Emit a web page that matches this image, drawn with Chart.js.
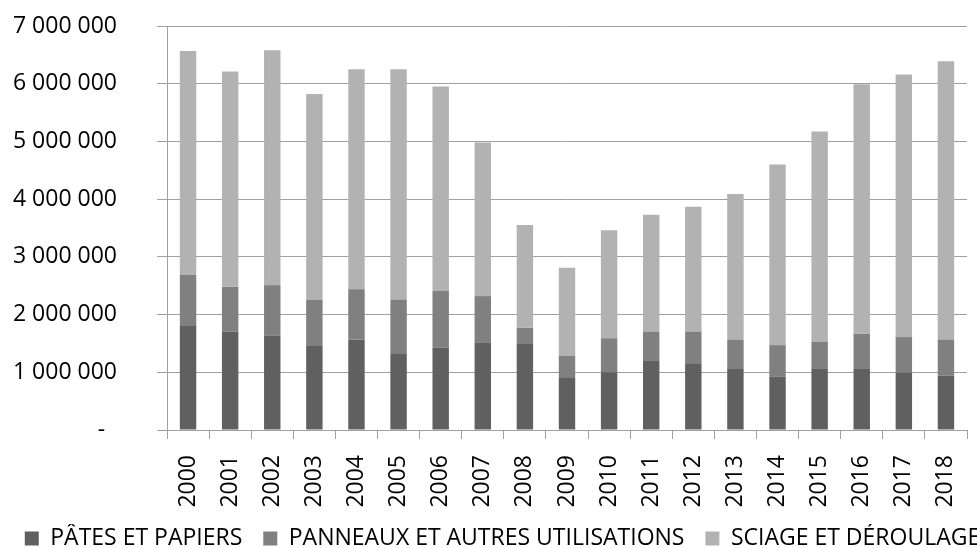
<!DOCTYPE html>
<html><head><meta charset="utf-8">
<script src="https://cdn.jsdelivr.net/npm/chart.js@4/dist/chart.umd.min.js"></script>
<style>html,body{margin:0;padding:0;background:#fff}#w{width:977px;height:548px}</style>
</head><body><div id="w"><canvas id="c" width="977" height="548"></canvas></div>
<script>
const years = ['2000','2001','2002','2003','2004','2005','2006','2007','2008','2009','2010','2011','2012','2013','2014','2015','2016','2017','2018'];
const seriesNames = ['PÂTES ET PAPIERS','PANNEAUX ET AUTRES UTILISATIONS','SCIAGE ET DÉROULAGE'];
const patesPapiers = [1800000,1700000,1630000,1470000,1570000,1330000,1430000,1510000,1490000,900000,1000000,1210000,1155000,1070000,920000,1070000,1070000,990000,940000];
const panneaux = [890000,780000,880000,790000,870000,930000,980000,810000,280000,390000,590000,490000,545000,495000,550000,460000,600000,620000,625000];
const sciage = [3877000,3730000,4070000,3560000,3810000,3990000,3540000,2660000,1780000,1520000,1870000,2030000,2170000,2525000,3130000,3640000,4320000,4550000,4825000];
const yTicks = [0,1000000,2000000,3000000,4000000,5000000,6000000,7000000];

const fmt = v => v === 0 ? '-  ' : String(v).replace(/\B(?=(\d{3})+(?!\d))/g, ' ');
const gridCol = '#a0a0a0';
const font = 'Open Sans';

const shiftLegend = {
  id: 'shiftLegend',
  afterLayout(chart) {
    const lg = chart.legend;
    if (lg) { lg.left += 14; lg.right += 14; }
  }
};

new Chart(document.getElementById('c'), {
  type: 'bar',
  data: {
    labels: years,
    datasets: [
      {label: seriesNames[0], data: patesPapiers, backgroundColor: '#606060'},
      {label: seriesNames[1], data: panneaux, backgroundColor: '#808080'},
      {label: seriesNames[2], data: sciage, backgroundColor: '#b2b2b2'}
    ]
  },
  plugins: [shiftLegend],
  options: {
    responsive: false,
    animation: false,
    layout: {padding: {left: 0, right: 0, top: 26, bottom: -12}},
    datasets: {bar: {categoryPercentage: 1, barPercentage: 0.39}},
    plugins: {
      tooltip: {enabled: false},
      legend: {
        position: 'bottom',
        labels: {
          color: '#000',
          font: {family: font, size: 23},
          boxWidth: 14, boxHeight: 14, padding: 3,
          generateLabels: (chart) => {
            const items = Chart.defaults.plugins.legend.labels.generateLabels(chart);
            items.forEach((it, i) => { it.lineWidth = 0; if (i < items.length - 1) it.text = it.text + '   '; });
            return items;
          }
        }
      }
    },
    scales: {
      x: {
        stacked: true,
        afterFit: s => { s.height = 94; s.paddingLeft = 0; s.paddingRight = 10; },
        grid: {drawOnChartArea: false, offset: true, tickLength: 9, color: gridCol},
        border: {color: gridCol},
        ticks: {autoSkip: false, maxRotation: 90, minRotation: 90, padding: 16, color: '#000', font: {family: font, size: 23}}
      },
      y: {
        stacked: true,
        min: 0, max: 7000000,
        afterFit: s => { s.width = 167; s.paddingTop = 0; s.paddingBottom = 0; },
        afterBuildTicks: s => { s.ticks = yTicks.map(v => ({value: v})); },
        grid: {color: gridCol, tickLength: 10},
        border: {color: gridCol},
        ticks: {padding: 40, color: '#000', font: {family: font, size: 23}, callback: v => fmt(v)}
      }
    }
  }
});
</script></body></html>
